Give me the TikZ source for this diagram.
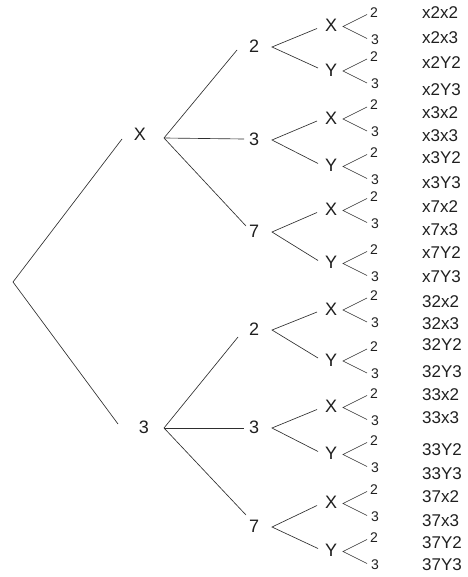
\documentclass[tikz,border=0pt]{standalone}
\usepackage{fontspec}
\setmainfont{Liberation Sans}
\begin{document}
\begin{tikzpicture}[x=1pt,y=-1pt,
  lbl/.style={inner sep=0pt,font=\fontsize{18}{20}\selectfont,text=black!88},
  leaf/.style={inner sep=0pt,font=\fontsize{14}{15}\selectfont,text=black!88},
  res/.style={inner sep=0pt,anchor=west,font=\fontsize{17}{20}\selectfont,text=black!88},
  ln/.style={line width=0.65pt,draw=black!82}]
\useasboundingbox (0,0) rectangle (467,577);
\newcommand\leaffan[3]{%
  \node[lbl] (#1) at (331,#3-1) {#2};
  \coordinate (#1a) at (343,#3);
  \coordinate (#1u) at (367,#3-12);
  \coordinate (#1l) at (367,#3+12);
  \node[leaf] (#1t) at (374,#3-14) {2};
  \node[leaf] (#1b) at (375,#3+13) {3};
  \draw[ln] (#1u) -- (#1a) -- (#1l);}
\newcommand\midfan[5]{%
  \node[lbl] (#1) at (254,#3-1) {#2};
  \coordinate (#1a) at (272,#3);
  \coordinate (#1u) at (317,#4+2);
  \coordinate (#1l) at (318,#5-3);
  \draw[ln] (#1u) -- (#1a) -- (#1l);
  \leaffan{#1X}{X}{#4}
  \leaffan{#1Y}{Y}{#5}}
% root
\coordinate (root) at (13,282);
\node[lbl] (X0) at (140,134) {X};
\node[lbl] (T0) at (144,427) {3};
\coordinate (X0in) at (122,139);
\coordinate (T0in) at (118,424);
\draw[ln] (X0in) -- (root) -- (T0in);
\coordinate (X0a) at (164,138);
\coordinate (T0a) at (164,428);
% level 1
\midfan{A}{2}{47}{26.5}{71}
\midfan{B}{3}{140}{119}{166.5}
\midfan{C}{7}{232}{210.5}{263.5}
\midfan{D}{2}{330}{310}{361}
\midfan{E}{3}{428}{407.5}{454.5}
\midfan{F}{7}{527}{503.5}{551.5}
\coordinate (Ain) at (237,50);
\coordinate (Bin) at (244,139);
\coordinate (Cin) at (246,226);
\coordinate (Din) at (238,337);
\coordinate (Ein) at (244,428);
\coordinate (Fin) at (246,515);
\draw[ln] (Ain) -- (X0a) -- (Cin);
\draw[ln] (X0a) -- (Bin);
\draw[ln] (Din) -- (T0a) -- (Fin);
\draw[ln] (T0a) -- (Ein);
% results
\node[res] (r1) at (422,13) {x2x2};
\node[res] (r2) at (422,38) {x2x3};
\node[res] (r3) at (422,63) {x2Y2};
\node[res] (r4) at (422,90) {x2Y3};
\node[res] (r5) at (422,113) {x3x2};
\node[res] (r6) at (422,136) {x3x3};
\node[res] (r7) at (422,158) {x3Y2};
\node[res] (r8) at (422,183) {x3Y3};
\node[res] (r9) at (422,207) {x7x2};
\node[res] (r10) at (422,230) {x7x3};
\node[res] (r11) at (422,253) {x7Y2};
\node[res] (r12) at (422,277) {x7Y3};
\node[res] (r13) at (422,302) {32x2};
\node[res] (r14) at (422,324) {32x3};
\node[res] (r15) at (422,345) {32Y2};
\node[res] (r16) at (422,372) {32Y3};
\node[res] (r17) at (422,395) {33x2};
\node[res] (r18) at (422,418) {33x3};
\node[res] (r19) at (422,450) {33Y2};
\node[res] (r20) at (422,474) {33Y3};
\node[res] (r21) at (422,497) {37x2};
\node[res] (r22) at (422,521) {37x3};
\node[res] (r23) at (422,543) {37Y2};
\node[res] (r24) at (422,565) {37Y3};
\end{tikzpicture}
\end{document}
